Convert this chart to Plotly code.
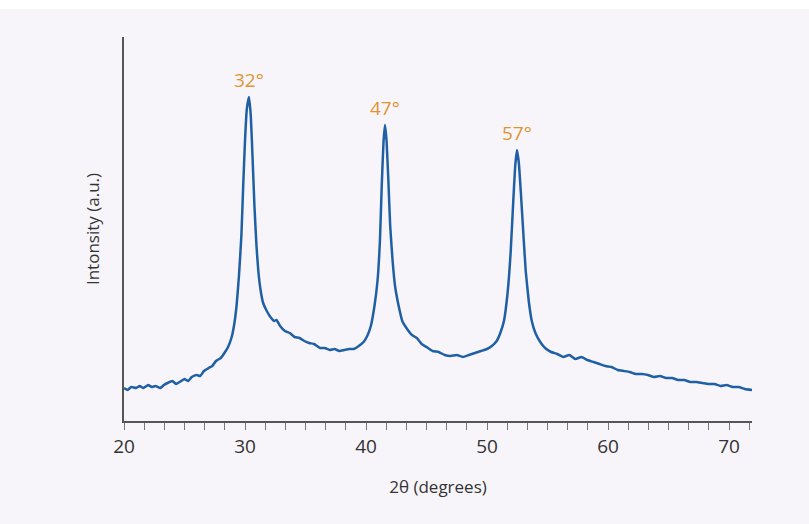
import plotly.graph_objects as go

# 2θ (degrees) and intensity (a.u.)
two_theta = [
    20.0, 20.3, 20.6, 21.0, 21.3, 21.6, 22.0, 22.3, 22.6, 23.0, 23.3, 23.6, 24.0, 24.3, 24.6,
    25.0, 25.3, 25.6, 26.0, 26.3, 26.6, 27.0, 27.3, 27.6, 28.0, 28.3, 28.6, 28.9, 29.1, 29.3,
    29.5, 29.7, 29.85, 30.0, 30.15, 30.33, 30.48, 30.62, 30.78, 30.95, 31.1, 31.3, 31.5, 31.8,
    32.1, 32.4, 32.6, 32.9, 33.3, 33.7, 34.1, 34.5, 34.9, 35.3, 35.7, 36.2, 36.6, 37.0, 37.4,
    37.8, 38.2, 38.6, 39.0, 39.4, 39.8, 40.1, 40.4, 40.7, 40.95, 41.15, 41.3, 41.45, 41.57,
    41.7, 41.85, 42.0, 42.2, 42.4, 42.7, 43.0, 43.4, 43.8, 44.2, 44.6, 45.0, 45.5, 46.0, 46.5,
    47.0, 47.5, 48.0, 48.5, 49.0, 49.5, 50.0, 50.4, 50.8, 51.1, 51.4, 51.7, 51.95, 52.15,
    52.33, 52.48, 52.63, 52.8, 53.0, 53.2, 53.45, 53.7, 54.0, 54.4, 54.8, 55.3, 55.8, 56.3,
    56.8, 57.3, 57.8, 58.3, 58.8, 59.3, 59.8, 60.3, 60.8, 61.3, 61.8, 62.3, 62.8, 63.3, 63.8,
    64.3, 64.8, 65.3, 65.8, 66.3, 66.8, 67.3, 67.8, 68.3, 68.8, 69.3, 69.8, 70.3, 70.8, 71.3,
    71.9,
]
intensity = [
    33, 31, 34, 33, 35, 33, 36, 34, 35, 33, 36, 38, 40, 37, 39,
    42, 40, 44, 46, 45, 50, 53, 55, 60, 63, 68, 74, 84, 96, 115,
    145, 185, 235, 280, 312, 324, 305, 265, 215, 175, 150, 130, 118, 110,
    104, 100, 101, 95, 90, 88, 84, 83, 80, 78, 77, 73, 73, 71, 72,
    70, 71, 72, 72, 75, 79, 85, 95, 115, 140, 180, 235, 280, 296,
    280, 240, 195, 160, 135, 115, 100, 92, 86, 83, 77, 74, 70, 69, 66,
    65, 66, 64, 66, 68, 70, 72, 75, 80, 88, 100, 128, 168, 215,
    255, 271, 258, 228, 188, 150, 120, 100, 88, 79, 73, 69, 67, 64,
    66, 62, 64, 61, 59, 57, 55, 54, 51, 50, 49, 47, 47, 46, 44,
    45, 43, 43, 41, 41, 39, 39, 38, 37, 37, 35, 36, 34, 34, 32,
    31,
]

peak_x = [30.33, 41.57, 52.48]
peak_y = [324, 296, 271]
peak_labels = ["32°", "47°", "57°"]

x_ticks = [20, 30, 40, 50, 60, 70]

BG = "#f8f5fa"
LINE = "#1f5fa3"
ORANGE = "#e0952f"
FONT = "Open Sans"

fig = go.Figure()
fig.add_trace(go.Scatter(
    x=two_theta, y=intensity, mode="lines",
    line=dict(color=LINE, width=2.5, shape="spline", smoothing=0.4),
    hoverinfo="skip", showlegend=False,
))

for px, py, lab in zip(peak_x, peak_y, peak_labels):
    fig.add_annotation(
        x=px, y=py, text=lab, showarrow=False, yanchor="bottom", yshift=2,
        font=dict(family=FONT, size=19, color=ORANGE),
    )

fig.update_layout(
    width=809, height=524,
    margin=dict(l=124, r=57, t=37, b=103),
    paper_bgcolor=BG, plot_bgcolor=BG,
    font=dict(family=FONT, color="#333333"),
    xaxis=dict(
        range=[20, 71.9], tickmode="array", tickvals=x_ticks,
        ticks="outside", ticklen=7, tickwidth=1, tickcolor="#777777",
        showline=True, linecolor="#555555", linewidth=1.5,
        showgrid=False, zeroline=False,
        tickfont=dict(family=FONT, size=19, color="#333333"),
        minor=dict(ticks="outside", ticklen=7, tickwidth=1, tickcolor="#777777",
                   dtick=10 / 6, tick0=20, showgrid=False),
        title=dict(text="2θ (degrees)", font=dict(family=FONT, size=17, color="#333333"),
                   standoff=24),
    ),
    yaxis=dict(
        range=[0, 384], showticklabels=False, ticks="",
        showline=True, linecolor="#555555", linewidth=1.5,
        showgrid=False, zeroline=False,
        title=dict(text="Intonsity (a.u.)", font=dict(family=FONT, size=17, color="#333333"),
                   standoff=18),
    ),
    shapes=[
        dict(type="rect", xref="paper", yref="paper", x0=-0.3, x1=1.2, y0=1.073, y1=1.2,
             fillcolor="white", line=dict(width=0), layer="below"),
    ],
)

fig.write_html("out.html")
